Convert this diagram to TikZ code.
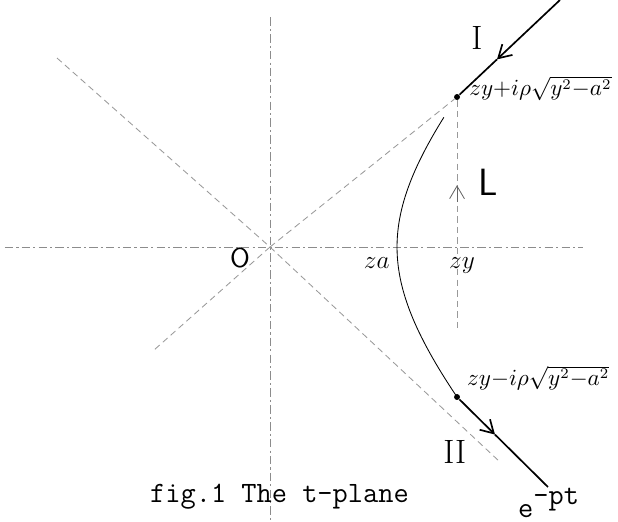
\documentclass[tikz,border=0pt]{standalone}
\usepackage{amsmath,amssymb}
\usepackage{xcolor}
\usepackage{tikz}
\usetikzlibrary{arrows.meta,positioning,calc}

\begin{document}
\begin{tikzpicture}[>={Straight Barb[length=6pt,width=7pt]},x=1cm,y=1cm,
  axis/.style={black!45,thin,dash pattern=on 4pt off 1.5pt on 1pt off 1.5pt},
  ray/.style={black!40,thin,dash pattern=on 3pt off 2pt},
  pt/.style={circle,fill=black,inner sep=1pt},
  hand/.style={font=\fontsize{12}{14}\selectfont},
  label text/.style={font=\fontsize{10.5}{12}\selectfont,inner sep=0pt},
  roman/.style={font=\rmfamily\fontsize{16}{18}\selectfont},
  typed/.style={font=\ttfamily\fontsize{14}{16}\selectfont}]
  \useasboundingbox (-4.5,-4.567) rectangle (5.8,4.117);
  % axes of the t-plane
  \coordinate (o) at (0,0);
  \coordinate (xl) at (-4.42,0);
  \coordinate (xr) at (5.22,0);
  \coordinate (yt) at (0,3.83);
  \coordinate (yb) at (0,-4.567);
  \draw[axis] (xl) -- (xr);
  \draw[axis] (yt) -- (yb);
  \node[font=\sffamily\fontsize{13}{15}\selectfont] (lo) at (-0.5,-0.18) {O};
  % rays through the origin
  \coordinate (ul) at (-3.55,3.15);
  \coordinate (ll) at (-1.97,-1.75);
  \coordinate (lr) at (3.83,-3.58);
  \node[pt,label={[label text,anchor=west,xshift=4pt,yshift=4pt]right:\(zy{+}i\rho\sqrt{y^2{-}a^2}\)}] (p1) at (3.117,2.5) {};
  \node[pt,label={[label text,anchor=west,xshift=3pt,yshift=9pt]right:\(zy{-}i\rho\sqrt{y^2{-}a^2}\)}] (p2) at (3.117,-2.5) {};
  \draw[ray] (ul) -- (o);
  \draw[ray] (o) -- (ll);
  \draw[ray] (o) -- (p1);
  \draw[ray] (o) -- (lr);
  % the line L
  \coordinate (za) at (2.117,0);
  \coordinate (zy) at (3.117,0);
  \coordinate (zb) at (3.117,-1.38);
  \coordinate (lb) at (3.117,0.75);
  \coordinate (lt) at (3.117,1.03);
  \draw[ray] (p1) -- (zb);
  \draw[black!60,->] (lb) -- (lt);
  \node[hand] (lza) at (1.78,-0.26) {\(za\)};
  \node[hand] (lzy) at (3.2,-0.3) {\(zy\)};
  \node[font=\sffamily\fontsize{18}{20}\selectfont] (lL) at (3.63,1.08) {L};
  % steepest descent curve
  \draw[thin] plot[domain=-0.94:0.835,samples=60] ({2.117*cosh(\x)},{2.313*sinh(\x)});
  % paths I and II
  \coordinate (in) at (4.833,4.117);
  \coordinate (m1) at (3.783,3.127);
  \coordinate (m2) at (3.75,-3.126);
  \coordinate (out) at (4.633,-4.0);
  \draw[thick,->] (in) -- (m1);
  \draw[thick] (m1) -- (p1);
  \draw[thick,->] (p2) -- (m2);
  \draw[thick] (m2) -- (out);
  \node[roman] (lI) at (3.45,3.48) {I};
  \node[roman] (lII) at (3.08,-3.42) {II};
  % caption
  \node[typed,anchor=base west] (cap) at (-2.12,-4.25) {fig.1 The t-plane};
  \node[typed,anchor=base west,inner sep=0pt] (ept) at (4.13,-4.5) {e\raisebox{6pt}{-pt}};
\end{tikzpicture}
\end{document}
